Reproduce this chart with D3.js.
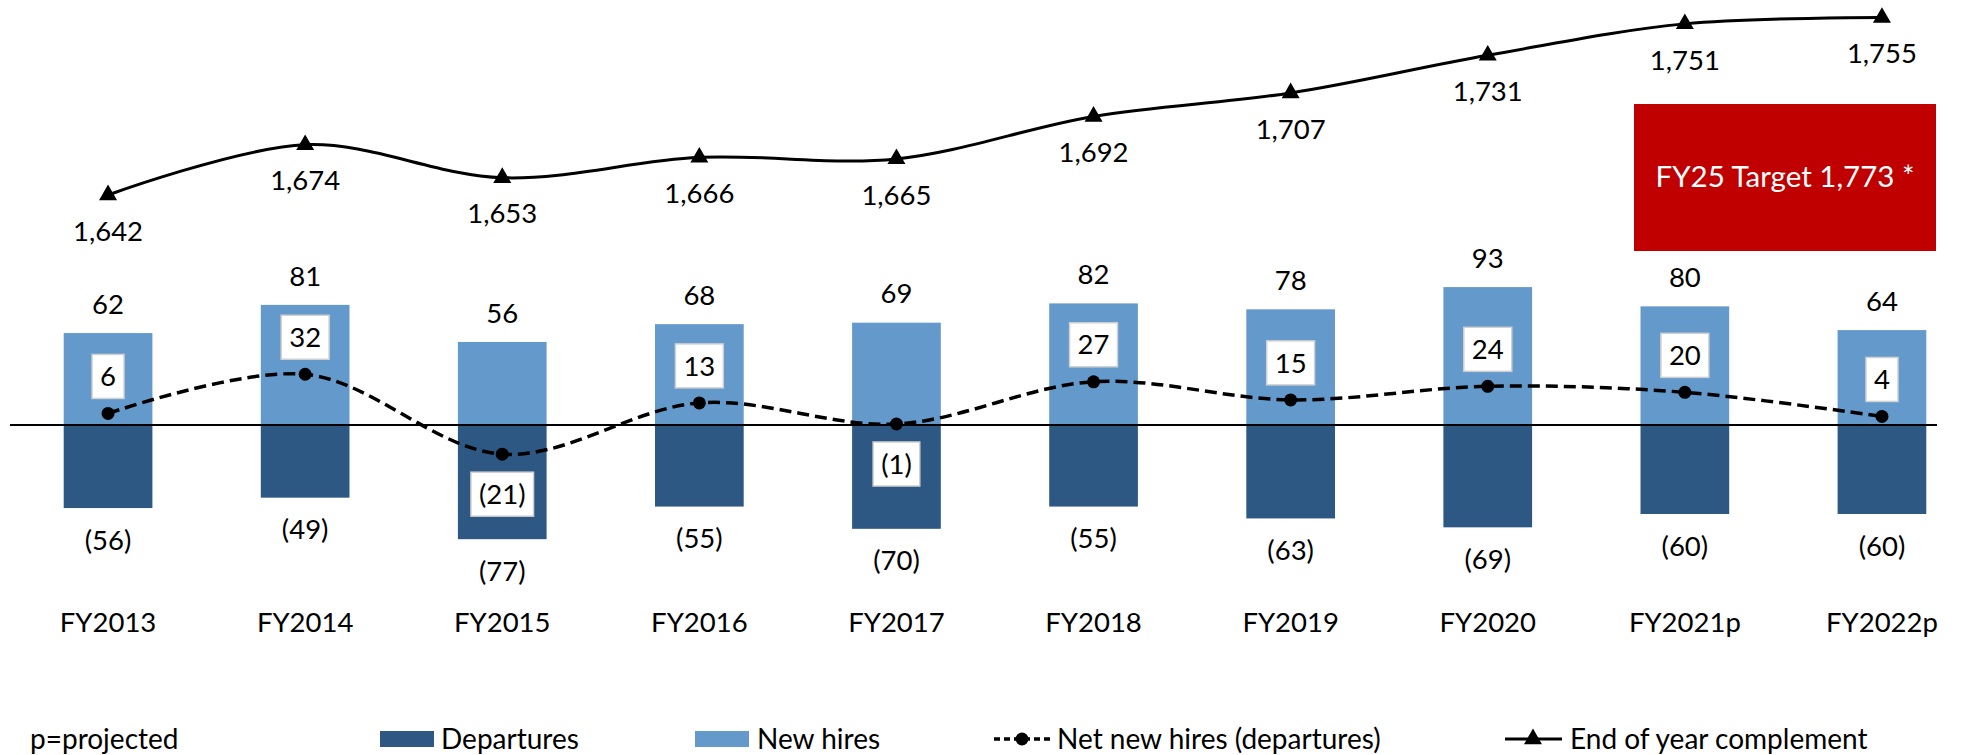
<!DOCTYPE html>
<html>
<head>
<meta charset="utf-8">
<script src="https://cdn.jsdelivr.net/npm/d3@7"></script>
<style>
  body { margin: 0; background: #fff; }
  svg text { font-family: Lato, "Open Sans", sans-serif; fill: #000; }
</style>
</head>
<body>
<svg id="chart"></svg>
<script>
// data
const years = ['FY2013','FY2014','FY2015','FY2016','FY2017','FY2018','FY2019','FY2020','FY2021p','FY2022p'];
const newHires = [62, 81, 56, 68, 69, 82, 78, 93, 80, 64];
const departures = [-56, -49, -77, -55, -70, -55, -63, -69, -60, -60];
const netHires = [6, 32, -21, 13, -1, 27, 15, 24, 20, 4];
const complement = [1642, 1674, 1653, 1666, 1665, 1692, 1707, 1731, 1751, 1755];
const targetText = 'FY25 Target 1,773 *';
const legendItems = ['Departures', 'New hires', 'Net new hires (departures)', 'End of year complement'];

const width = 1971, height = 755;
const fontSize = 27.5;
const legendSize = 28;

const svg = d3.select('#chart')
    .attr('width', width)
    .attr('height', height);

const x = d3.scaleBand()
    .domain(years)
    .range([9.5, 1980.5])
    .paddingInner(0.55)
    .paddingOuter(0.275);

// bars: zero at 425
const yBar = d3.scaleLinear().domain([-100, 100]).range([425 + 148.3, 425 - 148.3]);
// net new hires sits on its own axis
const yNet = d3.scaleLinear().domain([-100, 100]).range([422.5 + 150.8, 422.5 - 150.8]);
// end of year complement
const yComp = d3.scaleLinear().domain([1642, 1755]).range([195, 17.6]);

const cx = d => x(d) + x.bandwidth() / 2;

const fmt = v => v < 0 ? `(${d3.format(',')(-v)})` : d3.format(',')(v);

// bars
svg.append('g').selectAll('rect.hire')
    .data(years)
    .join('rect')
    .attr('x', d => x(d))
    .attr('width', x.bandwidth())
    .attr('y', (d, i) => yBar(newHires[i]))
    .attr('height', (d, i) => yBar(0) - yBar(newHires[i]))
    .attr('fill', '#6499CB');

svg.append('g').selectAll('rect.dep')
    .data(years)
    .join('rect')
    .attr('x', d => x(d))
    .attr('width', x.bandwidth())
    .attr('y', yBar(0))
    .attr('height', (d, i) => yBar(departures[i]) - yBar(0))
    .attr('fill', '#2C5883');

// zero line
svg.append('line')
    .attr('x1', 10).attr('x2', 1937)
    .attr('y1', yBar(0)).attr('y2', yBar(0))
    .attr('stroke', '#000')
    .attr('stroke-width', 2);

// bar labels
svg.append('g').selectAll('text')
    .data(years)
    .join('text')
    .attr('x', d => cx(d))
    .attr('y', (d, i) => yBar(newHires[i]) - 29)
    .attr('dy', '0.35em')
    .attr('text-anchor', 'middle')
    .attr('font-size', fontSize)
    .text((d, i) => fmt(newHires[i]));

svg.append('g').selectAll('text')
    .data(years)
    .join('text')
    .attr('x', d => cx(d))
    .attr('y', (d, i) => yBar(departures[i]) + 32)
    .attr('dy', '0.35em')
    .attr('text-anchor', 'middle')
    .attr('font-size', fontSize)
    .text((d, i) => fmt(departures[i]));

// net new hires line
const netLine = d3.line()
    .x((d, i) => cx(years[i]))
    .y(d => yNet(d))
    .curve(d3.curveCatmullRom.alpha(0.5));

svg.append('path')
    .attr('d', netLine(netHires))
    .attr('fill', 'none')
    .attr('stroke', '#000')
    .attr('stroke-width', 3.5)
    .attr('stroke-dasharray', '12,6');

svg.append('g').selectAll('circle')
    .data(netHires)
    .join('circle')
    .attr('cx', (d, i) => cx(years[i]))
    .attr('cy', d => yNet(d))
    .attr('r', 6.5)
    .attr('fill', '#000');

// boxed labels for net
const netLabels = svg.append('g').selectAll('g')
    .data(netHires)
    .join('g')
    .attr('transform', (d, i) => `translate(${cx(years[i])},${yNet(d) + (d < 0 ? 40 : -37)})`);

netLabels.append('text')
    .attr('text-anchor', 'middle')
    .attr('dy', '0.35em')
    .attr('font-size', fontSize)
    .text(d => fmt(d));

netLabels.each(function() {
    const g = d3.select(this);
    const bb = g.select('text').node().getBBox();
    g.insert('rect', 'text')
        .attr('x', bb.x - 8)
        .attr('y', -22)
        .attr('width', bb.width + 16)
        .attr('height', 44)
        .attr('fill', '#fff')
        .attr('stroke', '#d0d0d0')
        .attr('stroke-width', 1.5);
});

// end of year complement line
const compLine = d3.line()
    .x((d, i) => cx(years[i]))
    .y(d => yComp(d))
    .curve(d3.curveCatmullRom.alpha(0.5));

svg.append('path')
    .attr('d', compLine(complement))
    .attr('fill', 'none')
    .attr('stroke', '#000')
    .attr('stroke-width', 3);

const tri = d3.symbol().type(d3.symbolTriangle).size(140);

svg.append('g').selectAll('path')
    .data(complement)
    .join('path')
    .attr('d', tri)
    .attr('transform', (d, i) => `translate(${cx(years[i])},${yComp(d)})`)
    .attr('fill', '#000');

svg.append('g').selectAll('text')
    .data(complement)
    .join('text')
    .attr('x', (d, i) => cx(years[i]))
    .attr('y', d => yComp(d) + 36)
    .attr('dy', '0.35em')
    .attr('text-anchor', 'middle')
    .attr('font-size', fontSize)
    .text(d => fmt(d));

// target box
svg.append('rect')
    .attr('x', 1634).attr('y', 104)
    .attr('width', 302).attr('height', 147)
    .attr('fill', '#C00000');

svg.append('text')
    .attr('x', 1785).attr('y', 177)
    .attr('dy', '0.35em')
    .attr('text-anchor', 'middle')
    .attr('font-size', 29.5)
    .style('fill', '#fff')
    .text(targetText);

// category axis labels
const xaxis = d3.axisBottom(x).tickSize(0).tickPadding(0);
const axisG = svg.append('g')
    .attr('transform', 'translate(0,622)')
    .call(xaxis);
axisG.select('.domain').remove();
axisG.selectAll('text')
    .attr('dy', '0.35em')
    .attr('y', 0)
    .attr('font-size', fontSize)
    .attr('font-family', 'Lato, "Open Sans", sans-serif');

// legend
const legend = svg.append('g').attr('transform', 'translate(0,739)');

legend.append('text')
    .attr('x', 30).attr('dy', '0.35em')
    .attr('font-size', legendSize)
    .text('p=projected');

legend.append('rect')
    .attr('x', 380).attr('y', -8).attr('width', 54).attr('height', 16)
    .attr('fill', '#2C5883');
legend.append('text')
    .attr('x', 441).attr('dy', '0.35em')
    .attr('font-size', legendSize)
    .text(legendItems[0]);

legend.append('rect')
    .attr('x', 695).attr('y', -8).attr('width', 54).attr('height', 16)
    .attr('fill', '#6499CB');
legend.append('text')
    .attr('x', 757).attr('dy', '0.35em')
    .attr('font-size', legendSize)
    .text(legendItems[1]);

legend.append('line')
    .attr('x1', 994).attr('x2', 1050)
    .attr('stroke', '#000').attr('stroke-width', 3.5)
    .attr('stroke-dasharray', '6,4');
legend.append('circle')
    .attr('cx', 1022).attr('r', 6.5).attr('fill', '#000');
legend.append('text')
    .attr('x', 1057).attr('dy', '0.35em')
    .attr('font-size', legendSize)
    .text(legendItems[2]);

legend.append('line')
    .attr('x1', 1505).attr('x2', 1562)
    .attr('stroke', '#000').attr('stroke-width', 3);
legend.append('path')
    .attr('d', tri)
    .attr('transform', 'translate(1533,0)')
    .attr('fill', '#000');
legend.append('text')
    .attr('x', 1570).attr('dy', '0.35em')
    .attr('font-size', legendSize)
    .text(legendItems[3]);
</script>
</body>
</html>
